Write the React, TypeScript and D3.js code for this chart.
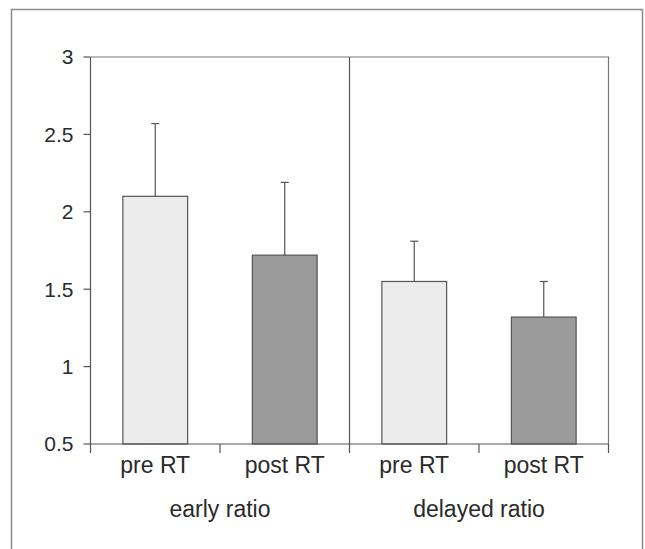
import * as d3 from "d3";

const conditions = ["pre RT", "post RT", "pre RT", "post RT"];
const groups = ["early ratio", "delayed ratio"];
const means = [2.1, 1.72, 1.55, 1.32];
const errors = [0.47, 0.47, 0.26, 0.23];
const yTicks = [0.5, 1, 1.5, 2, 2.5, 3];
const fills = ["#ececec", "#9b9b9b", "#ececec", "#9b9b9b"];

const W = 645;
const H = 549;
const left = 90.5;
const right = 608.5;
const top = 57;
const bottom = 444;

export default function App() {
  const x = d3
    .scaleBand<number>()
    .domain(d3.range(conditions.length))
    .range([left, right])
    .paddingInner(0.5)
    .paddingOuter(0.25);

  const y = d3.scaleLinear().domain([0.5, 3]).range([bottom, top]);

  const step = x.step();
  const boundaries = d3.range(conditions.length + 1).map((i) => left + i * step);
  const font = "'Liberation Sans', Arial, Helvetica, sans-serif";
  const ink = "#555";

  return (
    <svg
      width={W}
      height={H}
      style={{ position: "absolute", left: 0, top: 0, background: "#fff" }}
    >
      {/* outer frame, bottom edge is cut off */}
      <path
        d={`M11.5,${H} V9.5 H642.5 V${H}`}
        fill="none"
        stroke="#8a8a8a"
        strokeWidth={1.5}
      />

      {/* plot box */}
      <path
        d={`M${left},${top} H${right} V${bottom}`}
        fill="none"
        stroke="#777"
        strokeWidth={1.2}
      />
      <line x1={boundaries[2]} x2={boundaries[2]} y1={top} y2={bottom} stroke={ink} strokeWidth={1.2} />

      {/* bars */}
      {means.map((m, i) => (
        <rect
          key={"bar" + i}
          x={x(i)}
          y={y(m)}
          width={x.bandwidth()}
          height={y(0.5) - y(m)}
          fill={fills[i]}
          stroke={ink}
          strokeWidth={1.2}
        />
      ))}

      {/* error bars */}
      {means.map((m, i) => {
        const cx = (x(i) as number) + x.bandwidth() / 2;
        return (
          <g key={"err" + i} stroke={ink} strokeWidth={1.2}>
            <line x1={cx} x2={cx} y1={y(m)} y2={y(m + errors[i])} />
            <line x1={cx - 4} x2={cx + 4} y1={y(m + errors[i])} y2={y(m + errors[i])} />
          </g>
        );
      })}

      {/* y axis */}
      <line x1={left} x2={left} y1={top} y2={bottom} stroke={ink} strokeWidth={1.2} />
      {yTicks.map((t) => (
        <g key={"yt" + t}>
          <line x1={left - 7} x2={left} y1={y(t)} y2={y(t)} stroke={ink} strokeWidth={1.2} />
          <text
            x={left - 17}
            y={y(t)}
            dy="0.35em"
            textAnchor="end"
            fontFamily={font}
            fontSize={21}
            fill="#2a2a2a"
          >
            {t}
          </text>
        </g>
      ))}

      {/* x axis */}
      <line x1={left} x2={right} y1={bottom} y2={bottom} stroke={ink} strokeWidth={1.2} />
      {boundaries.map((b, i) => (
        <line key={"xt" + i} x1={b} x2={b} y1={bottom} y2={bottom + 9} stroke={ink} strokeWidth={1.2} />
      ))}
      {conditions.map((c, i) => (
        <text
          key={"xl" + i}
          x={(x(i) as number) + x.bandwidth() / 2}
          y={473}
          textAnchor="middle"
          fontFamily={font}
          fontSize={23}
          fill="#2a2a2a"
        >
          {c}
        </text>
      ))}
      {groups.map((g, gi) => (
        <text
          key={"gl" + gi}
          x={(boundaries[gi * 2] + boundaries[gi * 2 + 2]) / 2}
          y={517}
          textAnchor="middle"
          fontFamily={font}
          fontSize={23}
          fill="#2a2a2a"
        >
          {g}
        </text>
      ))}
    </svg>
  );
}
